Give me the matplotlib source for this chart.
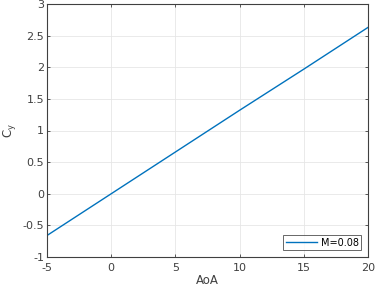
import matplotlib
matplotlib.use("Agg")
import matplotlib.pyplot as plt

aoa = [-5, 0, 5, 10, 15, 20]
cy = [-0.66, 0.0, 0.66, 1.32, 1.97, 2.63]
series_label = "M=0.08"
xticks = [-5, 0, 5, 10, 15, 20]
yticks = [-1, -0.5, 0, 0.5, 1, 1.5, 2, 2.5, 3]
ytick_labels = ["-1", "-0.5", "0", "0.5", "1", "1.5", "2", "2.5", "3"]

fig = plt.figure(figsize=(3.91, 2.91), dpi=100)
ax = fig.add_axes([47/391, 1-257/291, (368-47)/391, (257-4)/291])
ax.plot(aoa, cy, color="#0072BD", lw=1.0, label=series_label)
ax.set_xlim(-5, 20)
ax.set_ylim(-1, 3)
ax.set_xticks(xticks)
ax.set_xticklabels([str(t) for t in xticks])
ax.set_yticks(yticks)
ax.set_yticklabels(ytick_labels)
ax.grid(True, color="#e6e6e6", lw=0.6)
ax.set_axisbelow(True)
ax.tick_params(direction="in", length=2.5, width=0.6, labelsize=8, colors="#404040", top=True, right=True, pad=2)
ax.tick_params(axis="x", pad=4)
for s in ax.spines.values():
    s.set_color("#404040")
    s.set_linewidth(0.8)
ax.set_xlabel("AoA", fontsize=8.5, color="#404040", labelpad=1)
ax.set_ylabel("$\\mathregular{C_y}$", fontsize=8.5, color="#404040", labelpad=3)
leg = ax.legend(loc="lower right", fontsize=7, frameon=True, fancybox=False,
                edgecolor="#404040", borderpad=0.25, handlelength=3.2,
                handletextpad=0.4, borderaxespad=0.7)
leg.get_frame().set_linewidth(0.7)
fig.savefig("out.png", dpi=100)
